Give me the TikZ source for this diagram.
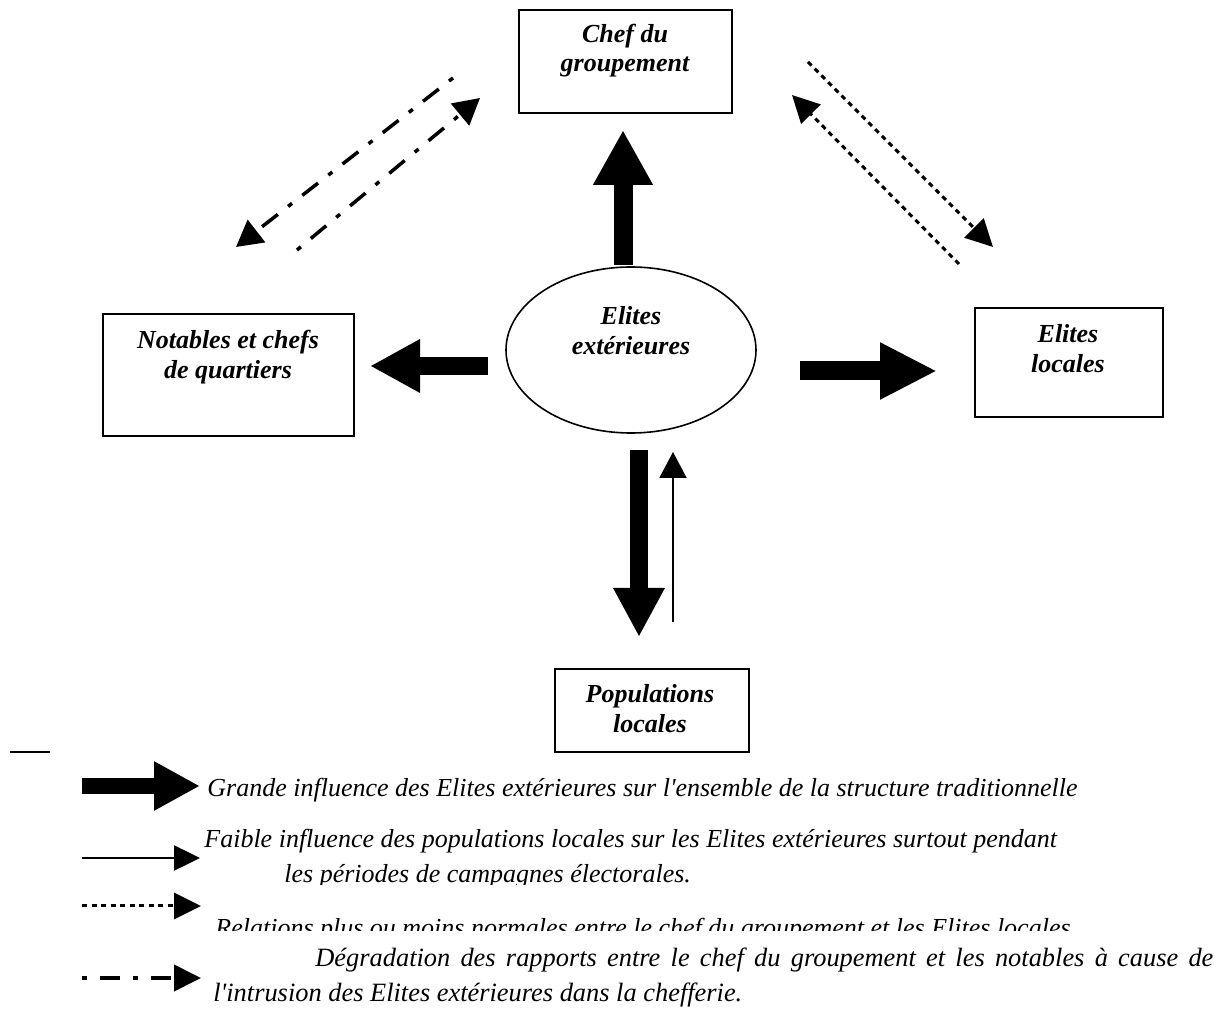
\documentclass[tikz,border=0pt]{standalone}
\usepackage{fontspec}
\setmainfont{Liberation Serif}
\usetikzlibrary{arrows.meta,shapes.geometric}
\begin{document}
\begin{tikzpicture}[x=0.5pt,y=-0.5pt,
  box/.style={draw=black,line width=1pt,rectangle,inner sep=0pt},
  blbl/.style={font=\fontsize{13}{15}\selectfont\bfseries\itshape,anchor=base,inner sep=0pt},
  leg/.style={font=\fontsize{13}{15}\selectfont\itshape,anchor=base west,inner sep=0pt},
  legb/.style={font=\fontsize{13.2}{17}\selectfont\itshape,anchor=base west,inner sep=0pt},
  dashdot/.style={line width=1.75pt,dash pattern=on 2.5pt off 6.5pt on 10pt off 6.5pt},
  dotline/.style={line width=1.5pt,dash pattern=on 2.5pt off 2.25pt},
]
\useasboundingbox (0,0) rectangle (1228,1010);

% boxes
\node[box,minimum width=106.5pt,minimum height=51.5pt] (chef) at (625.5,61.5) {};
\node[box,minimum width=125.5pt,minimum height=61pt] (notab) at (228.5,375) {};
\node[box,minimum width=94pt,minimum height=54.5pt] (eloc) at (1069,362.5) {};
\node[box,minimum width=97pt,minimum height=41.5pt] (pop) at (652,710.5) {};
\node[draw=black,line width=0.8pt,ellipse,minimum width=125pt,minimum height=83pt,inner sep=0pt] (ext) at (631,350) {};

% labels
\node[blbl] (chefA) at (625,43) {Chef du};
\node[blbl] (chefB) at (625,72) {groupement};
\node[blbl] (notabA) at (228,349) {Notables et chefs};
\node[blbl] (notabB) at (228,379) {de quartiers};
\node[blbl] (elocA) at (1068,343) {Elites};
\node[blbl] (elocB) at (1068,373) {locales};
\node[blbl] (extA) at (631,325) {Elites};
\node[blbl] (extB) at (631,355) {extérieures};
\node[blbl] (popA) at (650,703) {Populations};
\node[blbl] (popB) at (650,733) {locales};

% big arrows
\coordinate (upS) at (623,265); \coordinate (upE) at (623,130);
\coordinate (leS) at (488,366); \coordinate (leE) at (370,366);
\coordinate (riS) at (800,371); \coordinate (riE) at (937,371);
\coordinate (dnS) at (639,450); \coordinate (dnE) at (639,637);
\coordinate (thS) at (673,622); \coordinate (thE) at (673,452);
\draw[line width=9.5pt,-{Triangle[length=27.5pt,width=28pt]}] (upS) -- (upE);
\draw[line width=9pt,-{Triangle[length=25pt,width=25pt]}] (leS) -- (leE);
\draw[line width=9.5pt,-{Triangle[length=28.5pt,width=26.5pt]}] (riS) -- (riE);
\draw[line width=9pt,-{Triangle[length=24.5pt,width=24pt]}] (dnS) -- (dnE);
\draw[line width=1pt,-{Triangle[length=13pt,width=13.5pt]}] (thS) -- (thE);

% dash-dot arrows
\coordinate (aS) at (453,78); \coordinate (aE) at (236,247);
\coordinate (bS) at (297,250); \coordinate (bE) at (480,98);
\draw[dashdot,-{Triangle[length=13pt,width=14pt]}] (aS) -- (aE);
\draw[dashdot,-{Triangle[length=13pt,width=14pt]}] (bS) -- (bE);

% dotted arrows
\coordinate (cS) at (808,62); \coordinate (cE) at (993,247);
\coordinate (dS) at (959,264); \coordinate (dE) at (792,95);
\draw[dotline,-{Triangle[length=13.5pt,width=13.5pt]}] (cS) -- (cE);
\draw[dotline,-{Triangle[length=13.5pt,width=13.5pt]}] (dS) -- (dE);

% legend
\coordinate (stS) at (10,752); \coordinate (stE) at (50,752);
\draw[line width=0.75pt] (stS) -- (stE);
\coordinate (l1S) at (82,786); \coordinate (l1E) at (200,786);
\coordinate (l2S) at (82,858); \coordinate (l2E) at (200,858);
\coordinate (l3S) at (82,906); \coordinate (l3E) at (201,906);
\coordinate (l4S) at (82,978); \coordinate (l4E) at (201,978);
\draw[line width=8pt,-{Triangle[length=23pt,width=23pt]}] (l1S) -- (l1E);
\draw[line width=1.25pt,-{Triangle[length=13pt,width=12.5pt]}] (l2S) -- (l2E);
\draw[line width=1.5pt,dash pattern=on 2.5pt off 2.25pt,-{Triangle[length=13.5pt,width=13pt]}] (l3S) -- (l3E);
\draw[line width=2pt,dash pattern=on 2.5pt off 6.5pt on 10pt off 6.5pt,-{Triangle[length=13.5pt,width=13pt]}] (l4S) -- (l4E);

\node[leg] (t1) at (207,797) {Grande influence des Elites extérieures sur l\textquotesingle ensemble de la structure traditionnelle};
\node[leg] (t2a) at (204,848) {Faible influence des populations locales sur les Elites extérieures surtout pendant};
\begin{scope}
\clip (0,860) rectangle (1228,885);
\node[leg] (t2b) at (284,883) {les périodes de campagnes électorales.};
\end{scope}
\begin{scope}
\clip (0,905) rectangle (1228,930);
\node[leg] (t3) at (215,936) {Relations plus ou moins normales entre le chef du groupement et les Elites locales};
\end{scope}
\node[legb] (t4a) at (315,966) {\makebox[449pt][s]{Dégradation des rapports entre le chef du groupement et les notables à cause de}};
\node[legb] (t4b) at (213,1001) {l\textquotesingle intrusion des Elites extérieures dans la chefferie.};
\end{tikzpicture}
\end{document}
